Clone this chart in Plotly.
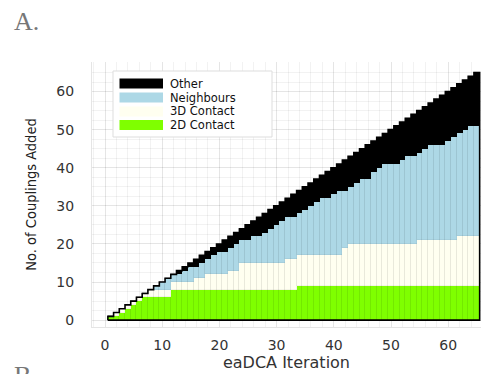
import plotly.graph_objects as go

# Couplings added per eaDCA iteration, split by contact class
iterations = list(range(1, 66))

contact_2d = [1, 1, 2, 3, 4, 5, 6, 6, 6, 6,
              6, 8, 8, 8, 8, 8, 8, 8, 8, 8,
              8, 8, 8, 8, 8, 8, 8, 8, 8, 8,
              8, 8, 8, 9, 9, 9, 9, 9, 9, 9,
              9, 9, 9, 9, 9, 9, 9, 9, 9, 9,
              9, 9, 9, 9, 9, 9, 9, 9, 9, 9,
              9, 9, 9, 9, 9]

contact_3d = [0, 1, 1, 1, 1, 1, 1, 2, 2, 2,
              2, 2, 2, 2, 2, 3, 3, 4, 4, 4,
              4, 5, 5, 7, 7, 7, 7, 7, 7, 7,
              7, 8, 8, 8, 8, 8, 8, 8, 8, 8,
              8, 10, 11, 11, 11, 11, 11, 11, 11, 11,
              11, 11, 11, 11, 12, 12, 12, 12, 12, 12,
              12, 13, 13, 13, 13]

neighbours = [0, 0, 0, 0, 0, 0, 0, 0, 1, 2,
              3, 2, 2, 3, 4, 3, 4, 4, 5, 6,
              6, 6, 7, 6, 6, 7, 7, 8, 9, 10,
              11, 11, 11, 11, 12, 13, 14, 15, 15, 16,
              17, 15, 15, 16, 17, 17, 19, 20, 21, 21,
              21, 22, 23, 23, 23, 24, 25, 25, 25, 26,
              27, 27, 28, 29, 29]

other = [0, 0, 0, 0, 0, 0, 0, 0, 0, 0,
         0, 0, 1, 1, 1, 2, 2, 2, 2, 2,
         3, 3, 3, 3, 4, 4, 5, 5, 5, 5,
         5, 5, 6, 6, 6, 6, 6, 6, 7, 7,
         7, 8, 8, 8, 8, 9, 8, 8, 8, 9,
         10, 10, 10, 11, 11, 11, 11, 12, 13, 13,
         13, 13, 13, 13, 14]

series_names = ["2D Contact", "3D Contact", "Neighbours", "Other"]
series_colors = ["#7FFF00", "#FFFFF0", "#ADD8E6", "#000000"]
series_values = [contact_2d, contact_3d, neighbours, other]

x_ticks = [0, 10, 20, 30, 40, 50, 60]
y_ticks = [0, 10, 20, 30, 40, 50, 60]

W, H = 481, 374
ML, MR, MT, MB = 92, 0, 62, 47
PW, PH = W - ML - MR, H - MT - MB


def px(x):
    return (x - ML) / PW


def py(y):
    return (H - MB - y) / PH


fig = go.Figure()

for name, color, vals in zip(series_names, series_colors, series_values):
    fig.add_trace(go.Bar(
        x=iterations, y=vals, name=name, width=1.0,
        marker=dict(color=color, line=dict(color="rgba(0,0,0,0.07)", width=0.6)),
        showlegend=False,
    ))

# black outline around the stacked staircase
totals = [a + b + c + d for a, b, c, d in zip(*series_values)]
edge_x = [i - 0.5 for i in iterations] + [iterations[-1] + 0.5]
edge_y = totals + [totals[-1]]
outline_x = [edge_x[0]] + edge_x + [edge_x[-1], edge_x[0]]
outline_y = [0] + edge_y + [0, 0]
fig.add_trace(go.Scatter(
    x=outline_x, y=outline_y, mode="lines",
    line=dict(color="black", width=1.6, shape="hv"),
    showlegend=False, hoverinfo="skip",
))

tick_font = dict(family="DejaVu Sans", size=14, color="#333333")
grid_col = "rgba(0,0,0,0.05)"

fig.update_layout(
    width=W, height=H,
    margin=dict(l=ML, r=MR, t=MT, b=MB, pad=0),
    paper_bgcolor="white", plot_bgcolor="white",
    barmode="stack", bargap=0,
    xaxis=dict(
        range=[(ML - 105) / 5.72, (W - 105) / 5.72],
        tickvals=x_ticks, ticktext=[str(t) for t in x_ticks],
        tickfont=tick_font, ticks="", ticklabelstandoff=5,
        showgrid=True, gridcolor=grid_col, gridwidth=1,
        minor=dict(dtick=2, showgrid=True, gridcolor=grid_col),
        zeroline=False, showline=True, linecolor="rgba(0,0,0,0.1)", mirror=False,
        title=dict(text="eaDCA Iteration",
                   font=dict(family="DejaVu Sans", size=16, color="#333333"),
                   standoff=0),
    ),
    yaxis=dict(
        range=[-1.8, -1.8 + PH / 3.81],
        tickvals=y_ticks, ticktext=[str(t) for t in y_ticks],
        tickfont=tick_font, ticks="", ticklabelstandoff=14,
        showgrid=True, gridcolor=grid_col, gridwidth=1,
        minor=dict(dtick=2.5, showgrid=True, gridcolor=grid_col),
        zeroline=False, showline=True, linecolor="rgba(0,0,0,0.1)",
        title=dict(text="No. of Couplings Added",
                   font=dict(family="Liberation Sans Narrow, DejaVu Sans Condensed, DejaVu Sans",
                             size=14.5, color="#222222"),
                   standoff=16),
    ),
)

# legend box drawn by hand
shapes = [dict(type="rect", xref="paper", yref="paper",
               x0=px(113), x1=px(272), y0=py(137), y1=py(71),
               fillcolor="white", line=dict(color="#dddddd", width=1), layer="above")]
annotations = []
legend_rows = [(83.5, 3), (97.5, 2), (111.5, 1), (125, 0)]
for yc, idx in legend_rows:
    shapes.append(dict(type="rect", xref="paper", yref="paper",
                       x0=px(119.5), x1=px(163), y0=py(yc + 5), y1=py(yc - 5),
                       fillcolor=series_colors[idx], line=dict(width=0), layer="above"))
    annotations.append(dict(xref="paper", yref="paper", x=px(168), y=py(yc),
                            xanchor="left", yanchor="middle", showarrow=False,
                            text=series_names[idx],
                            font=dict(family="DejaVu Sans", size=11.5, color="#111111")))

annotations.append(dict(xref="paper", yref="paper", x=px(12), y=py(21),
                        xanchor="left", yanchor="middle", showarrow=False, text="A.",
                        font=dict(family="Liberation Serif", size=26, color="#777777")))
annotations.append(dict(xref="paper", yref="paper", x=px(12), y=py(359),
                        xanchor="left", yanchor="top", showarrow=False, text="B.",
                        font=dict(family="Liberation Serif", size=26, color="#777777")))

fig.update_layout(shapes=shapes, annotations=annotations)

fig.write_html("out.html")
